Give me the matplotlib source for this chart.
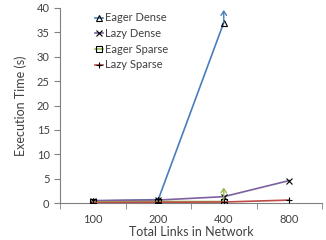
import matplotlib
matplotlib.use("Agg")
import matplotlib.pyplot as plt
import numpy as np

categories = ["100", "200", "400", "800"]
eager_dense = [0.4, 0.7, 37.0]
lazy_dense = [0.5, 0.6, 1.3, 4.6]
eager_sparse = [0.2, 0.3, 0.3]
lazy_sparse = [0.1, 0.15, 0.2, 0.6]
eager_dense_err = [0, 0, 2.6]
eager_sparse_err = [0, 0, 2.9]

plt.rcParams['font.family'] = ['Lato', 'DejaVu Sans']
fig = plt.figure(figsize=(3.26, 2.4), dpi=100)
ax = fig.add_axes([60/326, 1-203/240, 262/326, 195/240])

x = np.arange(len(categories))
blue, purple, green, red = "#4a7ebb", "#7d60a0", "#98b954", "#be4b48"

ax.plot(x[:3], eager_dense, color=blue, lw=1.2, marker='^', mfc='none', mec='black', ms=5, mew=0.8, label="Eager Dense", zorder=3)
ax.annotate('', xy=(x[2], eager_dense[2] + eager_dense_err[2]), xytext=(x[2], eager_dense[2]),
            arrowprops=dict(arrowstyle='->,head_length=0.3,head_width=0.2', color=blue, lw=1, shrinkA=0, shrinkB=0), zorder=3)
ax.plot(x, lazy_dense, color=purple, lw=1.2, marker='x', mec='black', ms=5, mew=0.8, label="Lazy Dense", zorder=3)
ax.plot(x[:3], eager_sparse, color=green, lw=1.2, marker='s', mfc='none', mec='black', ms=5, mew=0.8, label="Eager Sparse", zorder=3)
ax.annotate('', xy=(x[2], eager_sparse[2] + eager_sparse_err[2]), xytext=(x[2], eager_sparse[2]),
            arrowprops=dict(arrowstyle='->,head_length=0.3,head_width=0.2', color=green, lw=1, shrinkA=0, shrinkB=0), zorder=3)
ax.plot(x, lazy_sparse, color=red, lw=1.2, marker='+', mec='black', ms=5, mew=0.8, label="Lazy Sparse", zorder=3)

ax.set_xlim(-0.5, 3.5)
ax.set_ylim(0, 40)
ax.set_yticks(range(0, 41, 5))
ax.set_xticks(x)
ax.set_xticklabels(categories)
ax.set_xticks(np.arange(-0.5, 4.0, 1), minor=True)
ax.tick_params(axis='x', which='major', length=0, labelsize=8, colors='#404040', pad=8)
ax.tick_params(axis='x', which='minor', length=4, color='#808080', direction='out')
ax.tick_params(axis='y', length=4, labelsize=8, colors='#404040', direction='out', color='#808080')
for s in ['top', 'right']:
    ax.spines[s].set_visible(False)
for s in ['left', 'bottom']:
    ax.spines[s].set_color('#808080')
ax.set_xlabel("Total Links in Network", fontsize=9, color='#404040', labelpad=1)
ax.set_ylabel("Execution Time (s)", fontsize=9, color='#404040', labelpad=7)

leg = ax.legend(loc='upper left', bbox_to_anchor=(0.115, 1.0), frameon=False, fontsize=8,
                handlelength=0.8, handletextpad=0.1, labelspacing=0.42, borderaxespad=0)
for t in leg.get_texts():
    t.set_color('#404040')

fig.savefig("out.png", dpi=100)
